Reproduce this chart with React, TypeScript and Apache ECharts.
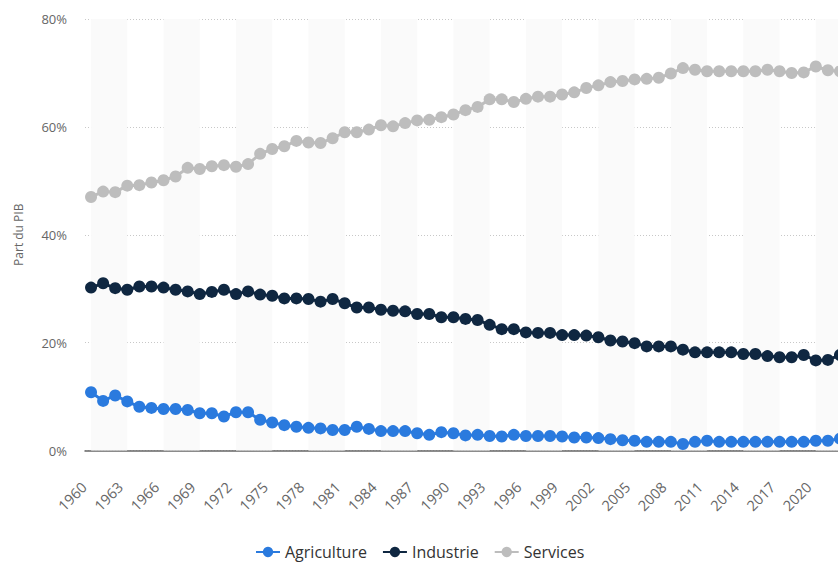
import React, { useEffect, useRef } from "react";
import * as echarts from "echarts";

const years: string[] = [];
for (let y = 1960; y <= 2022; y++) years.push(String(y));

const agriculture = [
  10.8, 9.2, 10.2, 9.1, 8.1, 7.9, 7.7, 7.7, 7.5, 6.9,
  6.9, 6.3, 7.1, 7.1, 5.7, 5.2, 4.7, 4.4, 4.2, 4.1,
  3.8, 3.8, 4.4, 4.0, 3.6, 3.6, 3.6, 3.2, 2.9, 3.4,
  3.2, 2.8, 2.9, 2.7, 2.6, 2.9, 2.7, 2.7, 2.7, 2.6,
  2.4, 2.4, 2.3, 2.1, 1.9, 1.8, 1.6, 1.6, 1.6, 1.2,
  1.6, 1.8, 1.6, 1.6, 1.6, 1.6, 1.6, 1.6, 1.6, 1.6,
  1.8, 1.8, 2.2,
];

const industrie = [
  30.2, 31.0, 30.1, 29.8, 30.4, 30.4, 30.2, 29.8, 29.5, 29.0,
  29.4, 29.8, 29.0, 29.5, 28.9, 28.7, 28.2, 28.2, 28.1, 27.6,
  28.1, 27.3, 26.5, 26.5, 26.1, 25.9, 25.8, 25.3, 25.3, 24.7,
  24.7, 24.4, 24.2, 23.3, 22.5, 22.5, 21.9, 21.8, 21.8, 21.4,
  21.4, 21.3, 21.0, 20.4, 20.2, 19.9, 19.3, 19.3, 19.3, 18.7,
  18.2, 18.2, 18.2, 18.2, 17.9, 17.9, 17.5, 17.3, 17.3, 17.7,
  16.7, 16.8, 17.7,
];

const services = [
  47.0, 48.0, 47.9, 49.1, 49.2, 49.7, 50.1, 50.8, 52.4, 52.2,
  52.7, 52.9, 52.6, 53.1, 55.0, 55.9, 56.4, 57.4, 57.1, 57.0,
  57.9, 59.0, 59.0, 59.5, 60.3, 60.1, 60.7, 61.2, 61.3, 61.8,
  62.3, 63.1, 63.7, 65.1, 65.1, 64.6, 65.2, 65.6, 65.6, 66.0,
  66.4, 67.2, 67.7, 68.3, 68.5, 68.8, 68.9, 69.1, 69.9, 70.9,
  70.6, 70.3, 70.3, 70.3, 70.3, 70.3, 70.6, 70.3, 70.0, 70.1,
  71.2, 70.5, 70.3,
];

const bandStarts = ["1960", "1966", "1972", "1978", "1984", "1990", "1996", "2002", "2008", "2014", "2020"];
const bandEnds = ["1963", "1969", "1975", "1981", "1987", "1993", "1999", "2005", "2011", "2017", "2022"];

const FONT = "'Open Sans', sans-serif";

export default function App() {
  const ref = useRef<HTMLDivElement>(null);
  useEffect(() => {
    if (!ref.current) return;
    const chart = echarts.init(ref.current, null, { renderer: "svg" });
    const mk = (name: string, data: number[], color: string, extra: any = {}) => ({
      name,
      type: "line",
      data,
      symbol: "circle",
      symbolSize: 12,
      showAllSymbol: true,
      lineStyle: { color, width: 3 },
      itemStyle: { color },
      ...extra,
    });
    chart.setOption({
      animation: false,
      textStyle: { fontFamily: FONT },
      grid: { left: 85, right: 4, top: 19, bottom: 111.5 },
      legend: {
        left: 250,
        top: 539,
        itemWidth: 24,
        itemHeight: 13,
        itemGap: 15,
        textStyle: { fontSize: 16, lineHeight: 16, color: "#333", fontFamily: FONT },
        data: ["Agriculture", "Industrie", "Services"],
      },
      xAxis: {
        type: "category",
        data: years,
        boundaryGap: true,
        axisLine: { lineStyle: { color: "#666", width: 1.5 } },
        axisTick: { show: false },
        axisLabel: {
          interval: 2,
          rotate: 45,
          margin: 27,
          padding: [0, 10, 0, 0],
          color: "#666",
          fontSize: 14.5,
          fontFamily: FONT,
        },
        splitLine: { show: false },
      },
      yAxis: {
        type: "value",
        min: 0,
        max: 80,
        interval: 20,
        name: "Part du PIB",
        nameLocation: "middle",
        nameGap: 61,
        nameTextStyle: { color: "#666", fontSize: 12, fontFamily: FONT },
        axisLine: { show: false },
        axisTick: { show: false },
        axisLabel: { formatter: "{value}%", color: "#666", fontSize: 13, margin: 18, fontFamily: FONT },
        splitLine: { lineStyle: { color: "#c8c8c8", type: [1, 2], width: 1 } },
      },
      series: [
        mk("Agriculture", agriculture, "#2a7ade", {
          markArea: {
            silent: true,
            itemStyle: { color: "#fafafa" },
            data: bandStarts.map((s, i) => [{ xAxis: s }, { xAxis: bandEnds[i] }]),
          },
        }),
        mk("Industrie", industrie, "#0f2741"),
        mk("Services", services, "#bdbdbd"),
      ],
    });
    return () => chart.dispose();
  }, []);
  return (
    <div style={{ position: "absolute", left: 0, top: 0, width: 838, height: 562, overflow: "hidden", background: "#fff" }}>
      <div ref={ref} style={{ width: 850, height: 562 }} />
    </div>
  );
}
